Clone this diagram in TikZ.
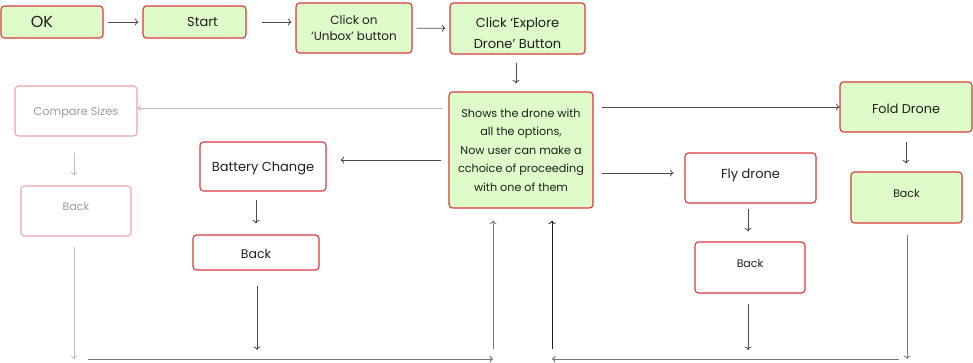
\documentclass[tikz,border=0pt]{standalone}
\usepackage{fontspec}
\setmainfont{Poppins}
\usetikzlibrary{arrows.meta}
\definecolor{boxred}{HTML}{D8373A}
\definecolor{boxgreen}{HTML}{DFFBCA}
\definecolor{palered}{HTML}{EEA2A6}
\definecolor{inkgray}{HTML}{1E1E1E}
\definecolor{fadetext}{HTML}{9A9A9A}
\definecolor{linegray}{HTML}{4A4A4A}
\definecolor{midgray}{HTML}{777777}
\definecolor{fadegray}{HTML}{BDBDBD}

\begin{document}
\begin{tikzpicture}[x=1pt,y=-1pt,>={To[length=3.5pt,width=7pt]},
  card/.style={draw=boxred,line width=1.1pt,rounded corners=3.5pt,text=inkgray,
    align=center,inner sep=0pt,font=\fontsize{13}{15}\selectfont},
  greencard/.style={card,fill=boxgreen},
  fadecard/.style={card,draw=palered,text=fadetext,font=\fontsize{11.3}{13}\selectfont},
  highback/.style={text height=8pt,text depth=8pt,font=\fontsize{11}{13}\selectfont},
  flow/.style={->,linegray,line width=0.8pt},
  fadeflow/.style={->,fadegray,line width=0.8pt}]
  \useasboundingbox (0,0) rectangle (973,363);

  % top row
  \node[greencard,minimum width=102,minimum height=32,font=\fontsize{16}{18}\selectfont] (ok) at (52,22) {OK\hspace*{20pt}};
  \node[greencard,minimum width=103,minimum height=32] (start) at (194.5,22) {\hspace*{16pt}Start};
  \node[greencard,minimum width=116,minimum height=50,font=\fontsize{12}{15.5}\selectfont] (unbox) at (354,28) {Click on\\‘Unbox’ button};
  \node[greencard,minimum width=135,minimum height=51,font=\fontsize{13}{21}\selectfont,text height=41pt,text depth=0pt] (explore) at (517.5,28.5) {Click ‘Explore\\Drone’ Button};

  % hub
  \node[greencard,minimum width=144,minimum height=116,font=\fontsize{11.2}{18.5}\selectfont] (shows) at (521,150)
    {Shows the drone with\\all the options,\\Now user can make a\\cchoice of proceeding\\with one of them};

  % branches
  \node[fadecard,minimum width=122,minimum height=50,text height=11pt,text depth=2pt] (compare) at (76,111) {Compare Sizes};
  \node[fadecard,highback,minimum width=110,minimum height=50] (cmpback) at (76,211) {Back};
  \node[card,minimum width=126,minimum height=49,text depth=0pt] (battery) at (263,166.5) {Battery Change};
  \node[card,minimum width=126,minimum height=35,font=\fontsize{12.5}{15}\selectfont,text height=12pt,text depth=0pt] (batback) at (256,252.5) {Back};
  \node[card,minimum width=131,minimum height=50,text depth=9pt] (fly) at (750.5,178) {Fly drone};
  \node[card,highback,minimum width=110,minimum height=51] (flyback) at (750,267.5) {Back};
  \node[greencard,minimum width=132,minimum height=50,font=\fontsize{12.8}{15}\selectfont,text height=13pt,text depth=0pt] (fold) at (906,107) {Fold Drone};
  \node[greencard,highback,minimum width=111,minimum height=51] (foldback) at (906.5,197.5) {Back};

  % return lines
  \coordinate (lowL) at (74,359);
  \coordinate (baseL) at (88,359);
  \coordinate (joinL) at (493,359);
  \coordinate (riseL) at (493,349);
  \coordinate (riseR) at (552,349);
  \coordinate (joinR) at (552,359);
  \coordinate (baseR) at (899,359);
  \coordinate (lowR) at (907,359);
  \coordinate (dropB) at (257,350);
  \coordinate (dropY) at (748,350);

  \draw[flow,shorten <=4pt,shorten >=4pt] (ok) -- (start);
  \draw[flow,shorten <=15pt,shorten >=4pt] (start.east) -- (start.east -| unbox.west);
  \draw[flow,shorten <=4pt,shorten >=4pt] (unbox) -- (explore);
  \draw[flow,shorten <=8pt,shorten >=8pt] (explore.south -| 516,0) -- (shows.north -| 516,0);

  \draw[fadeflow,shorten <=6pt] (shows.west |- 0,108) -- (compare.east |- 0,108);
  \draw[fadeflow,shorten <=16pt,shorten >=10pt] (compare.south -| 74,0) -- (cmpback.north -| 74,0);
  \draw[fadeflow,shorten <=10pt] (cmpback.south -| lowL) -- (lowL);

  \draw[flow,shorten <=7pt,shorten >=14pt] (shows.west |- 0,160) -- (battery.east |- 0,160);
  \draw[flow,shorten <=8pt,shorten >=11pt] (battery.south -| batback) -- (batback);
  \draw[flow,shorten <=15pt] (batback.south -| dropB) -- (dropB);

  \draw[flow,shorten <=8pt,shorten >=11pt] (shows.east |- 0,173) -- (fly.west |- 0,173);
  \draw[flow,shorten <=5pt,shorten >=10pt] (fly.south -| dropY) -- (flyback.north -| dropY);
  \draw[flow,shorten <=10pt] (flyback.south -| dropY) -- (dropY);

  \draw[flow,shorten <=8pt] (shows.east |- fold) -- (fold.west);
  \draw[flow,shorten <=9pt,shorten >=8pt] (fold.south) -- (foldback.north -| fold.south);
  \draw[->,midgray,line width=0.8pt,shorten <=11pt] (foldback.south -| lowR) -- (lowR);

  \draw[->,midgray,line width=1pt] (baseL) -- (joinL);
  \draw[->,midgray,line width=0.8pt,shorten >=12pt] (riseL) -- (shows.south -| riseL);
  \draw[->,inkgray,line width=0.8pt,shorten >=12pt] (riseR) -- (shows.south -| riseR);
  \draw[->,midgray,line width=1pt] (baseR) -- (joinR);
\end{tikzpicture}
\end{document}
